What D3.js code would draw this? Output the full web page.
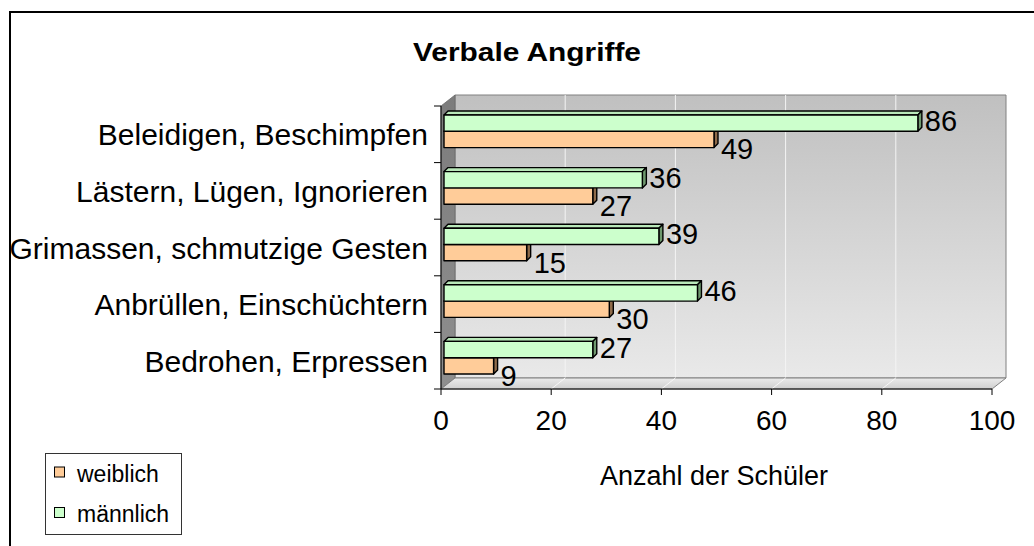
<!DOCTYPE html>
<html>
<head>
<meta charset="utf-8">
<script src="https://cdn.jsdelivr.net/npm/d3@7"></script>
<style>
  html, body { margin: 0; padding: 0; background: #fff; }
  svg { display: block; }
  text { font-family: "Liberation Sans", Arial, sans-serif; fill: #000; }
</style>
</head>
<body>
<svg id="chart" width="1034" height="546"></svg>
<script>
const title = "Verbale Angriffe";
const categories = ["Beleidigen, Beschimpfen", "Lästern, Lügen, Ignorieren", "Grimassen, schmutzige Gesten", "Anbrüllen, Einschüchtern", "Bedrohen, Erpressen"];
const seriesNames = ["männlich", "weiblich"];
const maennlich = [86, 36, 39, 46, 27];
const weiblich = [49, 27, 15, 30, 9];
const xTicks = [0, 20, 40, 60, 80, 100];
const xTitle = "Anzahl der Schüler";
const legendOrder = ["weiblich", "männlich"];

const svg = d3.select("#chart");
const colors = {
  "männlich": { front: "#ccffcc", top: "#b9e8b9", side: "#6f996f" },
  "weiblich": { front: "#ffcc99", top: "#e8b98a", side: "#8f6b4a" }
};
const values = { "männlich": maennlich, "weiblich": weiblich };

// geometry of the 3D frame
const front = { left: 441, right: 992, top: 106, bottom: 389 };
const depth = { dx: 14, dy: -11 };
const barOff = { dx: 3, dy: -3 };
const barDepth = { dx: 4, dy: -4 };

const x = d3.scaleLinear().domain([0, 100]).range([front.left, front.right]);
const y = d3.scaleBand().domain(categories).range([front.top, front.bottom]).paddingInner(0.424).paddingOuter(0.212);
const ySub = d3.scaleBand().domain(seriesNames).range([0, y.bandwidth()]);

// outer frame
svg.append("rect").attr("x", 10).attr("y", 12).attr("width", 1040).attr("height", 560)
  .attr("fill", "none").attr("stroke", "#000").attr("stroke-width", 2);

const defs = svg.append("defs");
const gWall = defs.append("linearGradient").attr("id", "wall").attr("x1", 0).attr("y1", 0).attr("x2", 0).attr("y2", 1);
gWall.append("stop").attr("offset", "0%").attr("stop-color", "#c0c0c0");
gWall.append("stop").attr("offset", "100%").attr("stop-color", "#e9e9e9");
const gSide = defs.append("linearGradient").attr("id", "side").attr("x1", 0).attr("y1", 0).attr("x2", 0).attr("y2", 1);
gSide.append("stop").attr("offset", "0%").attr("stop-color", "#7c7c7c");
gSide.append("stop").attr("offset", "100%").attr("stop-color", "#8f8f8f");
const gFloor = defs.append("linearGradient").attr("id", "floor").attr("x1", 0).attr("y1", 0).attr("x2", 0).attr("y2", 1);
gFloor.append("stop").attr("offset", "0%").attr("stop-color", "#ebebeb");
gFloor.append("stop").attr("offset", "100%").attr("stop-color", "#cfcfcf");

const P = pts => "M" + pts.map(p => p.join(",")).join("L") + "Z";
const bx = v => x(v) + depth.dx;

// back wall
svg.append("path")
  .attr("d", P([[bx(0), front.top + depth.dy], [bx(100), front.top + depth.dy], [bx(100), front.bottom + depth.dy], [bx(0), front.bottom + depth.dy]]))
  .attr("fill", "url(#wall)").attr("stroke", "#808080").attr("stroke-width", 1);
// gridlines on back wall
svg.append("g").selectAll("line").data(xTicks.slice(1, -1)).join("line")
  .attr("x1", d => bx(d)).attr("x2", d => bx(d))
  .attr("y1", front.top + depth.dy).attr("y2", front.bottom + depth.dy)
  .attr("stroke", "#f4f4f4").attr("stroke-width", 1);
// side wall
svg.append("path")
  .attr("d", P([[x(0), front.top], [bx(0), front.top + depth.dy], [bx(0), front.bottom + depth.dy], [x(0), front.bottom]]))
  .attr("fill", "url(#side)").attr("stroke", "#6a6a6a").attr("stroke-width", 0.8);
// floor
svg.append("path")
  .attr("d", P([[x(0), front.bottom], [bx(0), front.bottom + depth.dy], [bx(100), front.bottom + depth.dy], [x(100), front.bottom]]))
  .attr("fill", "url(#floor)").attr("stroke", "#808080").attr("stroke-width", 1);
svg.append("g").selectAll("line").data(xTicks.slice(1, -1)).join("line")
  .attr("x1", d => x(d)).attr("x2", d => bx(d))
  .attr("y1", front.bottom).attr("y2", front.bottom + depth.dy)
  .attr("stroke", "#f8f8f8").attr("stroke-width", 1);

// bars
const barsG = svg.append("g");
categories.forEach((cat, i) => {
  ["weiblich", "männlich"].forEach(s => {
    const v = values[s][i];
    const x0 = x(0) + barOff.dx, xe = x(v) + barOff.dx;
    const yT = y(cat) + ySub(s) + barOff.dy, yB = yT + ySub.bandwidth();
    const c = colors[s];
    const g = barsG.append("g").attr("stroke", "#000").attr("stroke-width", 1.4).attr("stroke-linejoin", "round");
    g.append("path").attr("d", P([[x0, yT], [x0 + barDepth.dx, yT + barDepth.dy], [xe + barDepth.dx, yT + barDepth.dy], [xe, yT]])).attr("fill", c.top);
    g.append("path").attr("d", P([[xe, yT], [xe + barDepth.dx, yT + barDepth.dy], [xe + barDepth.dx, yB + barDepth.dy], [xe, yB]])).attr("fill", c.side);
    g.append("rect").attr("x", x0).attr("y", yT).attr("width", xe - x0).attr("height", yB - yT).attr("fill", c.front);
  });
});

// value labels
categories.forEach((cat, i) => {
  seriesNames.forEach(s => {
    const v = values[s][i];
    const yC = y(cat) + ySub(s) + barOff.dy + ySub.bandwidth() / 2;
    svg.append("text")
      .attr("x", x(v) + barOff.dx + barDepth.dx + 3)
      .attr("y", yC + (s === "männlich" ? 8 : 20))
      .attr("font-size", 29)
      .text(v);
  });
});

// left axis
svg.append("line").attr("x1", x(0)).attr("x2", x(0)).attr("y1", front.top).attr("y2", front.bottom).attr("stroke", "#000").attr("stroke-width", 1);
const yBounds = categories.map(c => y(c) - y.step() * y.paddingOuter()).concat([front.bottom]);
svg.append("g").selectAll("line").data(yBounds).join("line")
  .attr("x1", x(0) - 7).attr("x2", x(0)).attr("y1", d => d).attr("y2", d => d)
  .attr("stroke", "#000").attr("stroke-width", 1);
svg.append("g").selectAll("text").data(categories).join("text")
  .attr("x", 428).attr("y", d => y(d) + y.bandwidth() / 2 + 11)
  .attr("text-anchor", "end").attr("font-size", 30)
  .text(d => d);

// bottom axis
svg.append("line").attr("x1", x(0)).attr("x2", x(100)).attr("y1", front.bottom).attr("y2", front.bottom).attr("stroke", "#000").attr("stroke-width", 1);
svg.append("g").selectAll("line").data(xTicks).join("line")
  .attr("x1", d => x(d)).attr("x2", d => x(d)).attr("y1", front.bottom).attr("y2", front.bottom + 6)
  .attr("stroke", "#000").attr("stroke-width", 1);
svg.append("g").selectAll("text").data(xTicks).join("text")
  .attr("x", d => x(d)).attr("y", 430).attr("text-anchor", "middle").attr("font-size", 28)
  .text(d => d);
svg.append("text").attr("x", 714).attr("y", 485).attr("text-anchor", "middle").attr("font-size", 27).text(xTitle);

// title
svg.append("text").attr("x", 527).attr("y", 61).attr("text-anchor", "middle")
  .attr("font-size", 26).attr("font-weight", "bold")
  .attr("textLength", 228).attr("lengthAdjust", "spacingAndGlyphs")
  .text(title);

// legend
const lg = svg.append("g");
lg.append("rect").attr("x", 45.5).attr("y", 453.5).attr("width", 136).attr("height", 81)
  .attr("fill", "#fff").attr("stroke", "#333").attr("stroke-width", 1);
const legY = d3.scalePoint().domain(legendOrder).range([472, 512.5]);
legendOrder.forEach(s => {
  lg.append("rect").attr("x", 54.5).attr("y", legY(s) - 5).attr("width", 10).attr("height", 10)
    .attr("fill", colors[s].front).attr("stroke", "#000").attr("stroke-width", 1);
  lg.append("text").attr("x", 77).attr("y", legY(s) + 9.5).attr("font-size", 23).text(s);
});
</script>
</body>
</html>
